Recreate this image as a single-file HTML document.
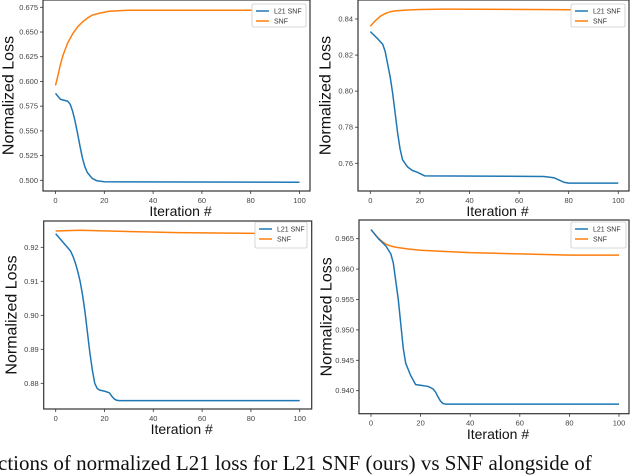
<!DOCTYPE html>
<html><head><meta charset="utf-8"><style>
body{margin:0;background:#fff;width:640px;height:461px;overflow:hidden;position:relative;font-family:"Liberation Sans",sans-serif}
#caption{position:absolute;left:-2px;top:451px;font:21px "Liberation Serif",serif;white-space:nowrap;color:#111}
</style></head><body>
<svg id="chart" width="640" height="461" style="position:absolute;left:0;top:0"></svg>
<div id="caption">ctions of normalized L21 loss for L21 SNF (ours) vs SNF alongside of</div>
<script>
const p1BlueX=[0,2,5,6,7,8,9,10,11,12,13,15,17,20,100];
const p1BlueY=[0.588,0.582,0.580,0.577,0.570,0.560,0.548,0.535,0.523,0.514,0.508,0.502,0.4995,0.4985,0.498];
const p1OrangeX=[0,1,2,3,5,7,9,11,13,15,18,22,30,100];
const p1OrangeY=[0.596,0.606,0.617,0.626,0.639,0.648,0.655,0.660,0.664,0.667,0.669,0.671,0.672,0.672];
const p1Ticks=[0.500,0.525,0.550,0.575,0.600,0.625,0.650,0.675];
const p1TickLabels=["0.500","0.525","0.550","0.575","0.600","0.625","0.650","0.675"];

const p2BlueX=[0,3,5,6,7,8,9,10,11,12,13,15,17,19,22,70,74,78,80,100];
const p2BlueY=[0.833,0.829,0.826,0.822,0.815,0.808,0.799,0.788,0.777,0.768,0.762,0.758,0.756,0.755,0.753,0.7527,0.752,0.7495,0.749,0.749];
const p2OrangeX=[0,2,4,6,8,10,15,20,30,100];
const p2OrangeY=[0.836,0.839,0.8415,0.843,0.844,0.8445,0.845,0.8453,0.8455,0.845];
const p2Ticks=[0.76,0.78,0.80,0.82,0.84];
const p2TickLabels=["0.76","0.78","0.80","0.82","0.84"];

const p3BlueX=[0,3,6,7,8,9,10,11,12,13,14,15,16,17,18,20,22,23,24,25,26,100];
const p3BlueY=[0.924,0.9215,0.919,0.9175,0.9155,0.913,0.910,0.906,0.901,0.895,0.889,0.884,0.880,0.8785,0.878,0.8777,0.8772,0.8762,0.8754,0.875,0.8749,0.8749];
const p3OrangeX=[0,10,50,100];
const p3OrangeY=[0.9248,0.925,0.9243,0.924];
const p3Ticks=[0.88,0.89,0.90,0.91,0.92];
const p3TickLabels=["0.88","0.89","0.90","0.91","0.92"];

const p4BlueX=[0,3,6,8,9,10,11,12,13,14,16,18,20,23,25,26,27,28,29,30,100];
const p4BlueY=[0.9665,0.965,0.9638,0.9625,0.961,0.958,0.955,0.951,0.947,0.9445,0.9425,0.941,0.9409,0.9407,0.9403,0.9398,0.939,0.9383,0.9379,0.9378,0.9378];
const p4OrangeX=[0,2,4,6,8,10,15,20,30,40,60,80,100];
const p4OrangeY=[0.9665,0.9655,0.9647,0.9641,0.9638,0.9636,0.9633,0.9631,0.9629,0.9627,0.9625,0.9623,0.9623];
const p4Ticks=[0.940,0.945,0.950,0.955,0.960,0.965];
const p4TickLabels=["0.940","0.945","0.950","0.955","0.960","0.965"];

const xTicks=[0,20,40,60,80,100];
const xTickLabels=["0","20","40","60","80","100"];

const NS="http://www.w3.org/2000/svg";
const svg=document.getElementById('chart');
function mk(tag,attrs,parent){const e=document.createElementNS(NS,tag);for(const k in attrs)e.setAttribute(k,attrs[k]);(parent||svg).appendChild(e);return e;}

const panels=[
 {id:'top-left',box:[43,0,310,191],x0:55.5,x100:299.5,ya:[0.675,7.3],yb:[0.500,180.3],bx:p1BlueX,by:p1BlueY,ox:p1OrangeX,oy:p1OrangeY,t:p1Ticks,tl:p1TickLabels,ylx:9,xly:211,leg:[252,4,306,27]},
 {id:'top-right',box:[358,0,629,191],x0:370.3,x100:618.3,ya:[0.84,19],yb:[0.76,163.3],bx:p2BlueX,by:p2BlueY,ox:p2OrangeX,oy:p2OrangeY,t:p2Ticks,tl:p2TickLabels,ylx:326,xly:211,leg:[571,4,625,27]},
 {id:'bottom-left',box:[43.7,221,311.7,409],x0:55.7,x100:299.7,ya:[0.92,247.3],yb:[0.88,383.3],bx:p3BlueX,by:p3BlueY,ox:p3OrangeX,oy:p3OrangeY,t:p3Ticks,tl:p3TickLabels,ylx:12,xly:429,leg:[255,222,307,248]},
 {id:'bottom-right',box:[359,220,629,413.7],x0:371,x100:619,ya:[0.965,238.7],yb:[0.940,390.7],bx:p4BlueX,by:p4BlueY,ox:p4OrangeX,oy:p4OrangeY,t:p4Ticks,tl:p4TickLabels,ylx:327,xly:434,leg:[571,222,626,248]}
];

panels.forEach(p=>{
 const g=mk('g',{});
 
 
 const xs=v=>p.x0+(p.x100-p.x0)*v/100;
 const ys=v=>p.yb[1]+(v-p.yb[0])*(p.ya[1]-p.yb[1])/(p.ya[0]-p.yb[0]);
 const [l,t,r,b]=p.box;
 const fr=mk('rect',{x:l,y:t,width:r-l,height:b-t,fill:'none',stroke:'#333','stroke-width':1.2},g);
 
 
 xTicks.forEach((v,i)=>{
  const x=xs(v);
  mk('line',{x1:x,y1:b,x2:x,y2:b+3,stroke:'#333','stroke-width':0.8},g);
  const tx=mk('text',{x:x,y:b+12,'font-size':7.5,fill:'#444','text-anchor':'middle'},g);
  tx.textContent=xTickLabels[i];
  
  
 });
 p.t.forEach((v,i)=>{
  const y=ys(v);
  mk('line',{x1:l-3,y1:y,x2:l,y2:y,stroke:'#333','stroke-width':0.8},g);
  const tx=mk('text',{x:l-5,y:y+2.5,'font-size':7.5,fill:'#444','text-anchor':'end'},g);
  tx.textContent=p.tl[i];
  
  
 });
 const cy=(t+b)/2;
 const yl=mk('text',{x:p.ylx,y:cy,'font-size':16,fill:'#111','text-anchor':'middle',transform:`rotate(-90 ${p.ylx} ${cy})`,'dominant-baseline':'central'},g);
 yl.textContent='Normalized Loss';
 
 
 const xl=mk('text',{x:(l+r)/2+4,y:p.xly+5,'font-size':14,fill:'#111','text-anchor':'middle'},g);
 xl.textContent='Iteration #';
 
 
 const ptsO=p.ox.map((v,i)=>xs(v)+','+ys(p.oy[i])).join(' ');
 const lo=mk('polyline',{points:ptsO,fill:'none',stroke:'#ff7f0e','stroke-width':1.5,'stroke-linejoin':'round'},g);
 
 
 const ptsB=p.bx.map((v,i)=>xs(v)+','+ys(p.by[i])).join(' ');
 const lb=mk('polyline',{points:ptsB,fill:'none',stroke:'#1f77b4','stroke-width':1.5,'stroke-linejoin':'round'},g);
 
 
 const [a,c,d,e]=p.leg;
 const lg=mk('g',{},g);
 
 
 mk('rect',{x:a,y:c,width:d-a,height:e-c,fill:'#fff',stroke:'#ccc','stroke-width':0.8,rx:1.5},lg);
 const rows=[['L21 SNF','#1f77b4'],['SNF','#ff7f0e']];
 rows.forEach((rw,i)=>{
  const yy=c+7+i*10;
  mk('line',{x1:a+4,y1:yy,x2:a+17,y2:yy,stroke:rw[1],'stroke-width':1.5},lg);
  const tt=mk('text',{x:a+22,y:yy+2.5,'font-size':7,fill:'#333'},lg);
  tt.textContent=rw[0];
  
  
 });
});
</script>
</body></html>
